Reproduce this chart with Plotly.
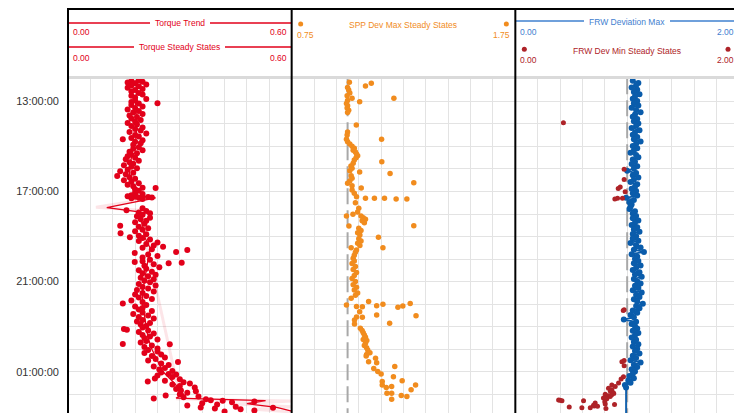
import plotly.graph_objects as go
from datetime import datetime, timedelta

# ---------------- data ----------------
torque_ss_time = [
    "12:04","12:06","12:08","12:10","12:12","12:15","12:18","12:20","12:24","12:27","12:30","12:34","12:38","12:42","12:45","12:50","12:54","12:58",
    "13:02","13:05","13:06","13:10","13:14","13:18","13:22","13:26","13:30","13:34","13:38","13:42","13:46","13:50","13:54","13:58",
    "14:02","14:06","14:10","14:14","14:18","14:22","14:26","14:30","14:34","14:38","14:41","14:44","14:48","14:52","14:56",
    "15:02","15:06","15:10","15:14","15:18","15:22","15:26","15:30","15:34","15:38","15:42","15:46","15:50","15:54","15:58",
    "16:02","16:06","16:10","16:14","16:19","16:22","16:26","16:30","16:34","16:38","16:42","16:46","16:50","16:51","16:54","16:58",
    "17:03","17:07","17:10","17:13","17:14","17:15","17:15","17:16","17:17","17:18","17:20","17:45","17:50","17:52","17:56","17:58",
    "18:02","18:06","18:10","18:14","18:18","18:22","18:26","18:31","18:34","18:38","18:42","18:46","18:51","18:54","18:58",
    "19:02","19:04","19:08","19:12","19:16","19:20","19:24","19:27","19:30","19:34","19:36","19:41","19:44","19:48","19:52","19:56",
    "20:02","20:06","20:08","20:10","20:11","20:14","20:18","20:22","20:26","20:30","20:34","20:38","20:42","20:46","20:50","20:54","20:58",
    "21:02","21:06","21:10","21:14","21:18","21:22","21:26","21:30","21:34","21:38","21:42","21:46","21:50","21:54","21:58",
    "22:02","22:06","22:10","22:14","22:18","22:22","22:26","22:30","22:34","22:38","22:42","22:46","22:50","22:54","22:58",
    "23:02","23:06","23:08","23:10","23:14","23:18","23:22","23:26","23:30","23:34","23:38","23:42","23:46","23:47","23:50","23:54","23:58",
    "00:02","00:06","00:10","00:14","00:18","00:22","00:26","00:30","00:34","00:38","00:42","00:46","00:50","00:54","00:58",
    "01:02","01:06","01:07","01:10","01:14","01:18","01:20","01:24","01:26","01:28","01:31","01:34","01:38","01:42","01:46","01:50","01:52","01:56",
    "02:00","02:03","02:06","02:08","02:11","02:13","02:16","02:17","02:19","02:21","02:24","02:27","02:30","02:33","02:35","02:36","02:38","02:40","02:43","02:46",
]
torque_ss_value = [
    0.19,0.17,0.20,0.16,0.18,0.21,0.17,0.19,0.16,0.20,0.18,0.17,0.19,0.20,0.17,0.18,0.21,0.18,
    0.17,0.24,0.19,0.17,0.20,0.18,0.16,0.19,0.175,0.20,0.165,0.185,0.17,0.195,0.18,0.16,
    0.185,0.17,0.20,0.18,0.195,0.165,0.21,0.18,0.19,0.17,0.147,0.20,0.18,0.195,0.175,
    0.19,0.175,0.20,0.165,0.185,0.17,0.16,0.18,0.155,0.19,0.165,0.175,0.15,0.17,0.185,
    0.16,0.14,0.175,0.155,0.132,0.165,0.18,0.15,0.17,0.19,0.16,0.175,0.20,0.235,0.18,0.19,
    0.18,0.20,0.17,0.16,0.18,0.20,0.215,0.225,0.19,0.17,0.20,0.20,0.157,0.21,0.19,0.22,
    0.20,0.185,0.22,0.195,0.21,0.18,0.205,0.14,0.19,0.215,0.20,0.18,0.141,0.21,0.19,
    0.166,0.20,0.22,0.19,0.24,0.21,0.23,0.255,0.20,0.225,0.32,0.29,0.179,0.215,0.24,0.20,
    0.22,0.20,0.179,0.305,0.27,0.23,0.205,0.245,0.21,0.19,0.225,0.20,0.235,0.215,0.195,0.23,0.205,
    0.22,0.19,0.235,0.20,0.215,0.185,0.23,0.20,0.18,0.21,0.19,0.225,0.17,0.20,0.147,
    0.21,0.18,0.20,0.19,0.225,0.20,0.175,0.215,0.19,0.23,0.20,0.185,0.22,0.195,0.21,
    0.20,0.15,0.158,0.215,0.19,0.23,0.20,0.22,0.205,0.24,0.21,0.195,0.147,0.273,0.225,0.205,0.24,
    0.215,0.24,0.205,0.25,0.225,0.26,0.235,0.215,0.295,0.25,0.27,0.23,0.26,0.245,0.28,
    0.25,0.27,0.29,0.24,0.28,0.233,0.30,0.26,0.214,0.31,0.327,0.28,0.30,0.34,0.29,0.303,0.343,0.32,
    0.30,0.262,0.35,0.31,0.23,0.37,0.383,0.415,0.50,0.44,0.36,0.40,0.32,0.45,0.356,0.55,0.394,0.463,0.50,0.42,
]

torque_trend_time = ["12:05","12:30","13:00","13:30","14:00","14:30","15:00","15:30","16:00","16:30","17:00","17:12","17:17",
                     "17:43","17:54","18:30","19:00","19:30","20:00","20:30","21:00","21:30","22:00","22:30","23:00","23:30",
                     "00:00","00:30","01:00","01:30","02:00","02:10","02:17","02:25","02:35","02:45"]
torque_trend_value = [0.18,0.185,0.18,0.185,0.18,0.185,0.175,0.17,0.165,0.165,0.18,0.19,0.235,
                      0.104,0.19,0.20,0.205,0.22,0.215,0.21,0.205,0.20,0.20,0.205,0.21,0.215,
                      0.225,0.24,0.255,0.285,0.31,0.29,0.53,0.48,0.56,0.60]

torque_band_time = ["17:10","17:17","17:42","17:50","02:05","02:12","02:18","02:26","02:33","02:40","02:47"]
torque_band_value = [0.19,0.235,0.075,0.19,0.30,0.29,0.60,0.45,0.60,0.50,0.60]

spp_time = ["12:09","12:12","12:19","12:23","12:30","12:38","12:45","12:52","12:52","12:58","13:01","13:06","13:12","13:18","13:24","13:30",
            "14:03","14:22","14:30","14:41","14:41","14:48","14:54","15:00","15:05","15:10","15:15","15:20","15:25","15:30","15:36","15:41",
            "15:45","15:52","15:58","16:05","16:08","16:12","16:18","16:25","16:32","16:37","16:38","16:45","16:51","16:56","17:05","17:14",
            "17:18","17:18","17:18","17:20","17:20","17:30","17:45","17:55","18:01","18:05","18:05","18:10","18:14","18:18","18:23","18:31",
            "18:32","18:38","18:44","18:50","18:56","19:02","19:06","19:12","19:18","19:24","19:30","19:30","19:36","19:42","19:50","19:58",
            "20:05","20:12","20:20","20:28","20:36","20:44","20:52","21:00","21:08","21:15","21:22","21:30","21:36","21:44","21:53","21:58",
            "22:00","22:02","22:04","22:05","22:06","22:07","22:08","22:20","22:29","22:31","22:34","22:35","22:42","22:51","22:53","23:04",
            "23:10","23:16","23:22","23:28","23:34","23:37","23:44","23:50","23:56","00:02","00:09","00:14","00:18","00:24","00:33","00:36",
            "00:46","00:51","00:59","01:06","01:13","01:24","01:26","01:35","01:35","01:39","01:42","01:48","01:57","01:57","02:03","02:06","02:13"]
spp_value = [1.008,1.106,1.08,1.00,1.005,1.01,0.998,1.02,1.207,1.00,1.054,0.995,1.00,0.998,1.005,1.00,
             1.039,1.00,0.998,0.995,1.152,1.00,1.01,1.02,1.03,1.025,1.035,1.04,1.045,1.038,1.03,1.153,
             1.025,1.015,1.02,1.01,1.054,1.19,1.016,1.02,1.01,1.296,1.00,1.02,1.061,1.02,1.03,1.04,
             1.08,1.12,1.165,1.217,1.265,1.035,1.05,1.045,1.024,0.995,1.06,1.07,1.08,1.065,1.075,1.296,
             1.006,1.05,1.06,1.045,1.055,1.138,1.05,1.06,1.045,1.055,1.158,1.016,1.04,1.035,1.03,1.025,
             1.03,1.02,1.035,1.025,1.04,1.03,1.02,1.035,1.025,1.04,1.03,1.045,1.035,1.016,1.094,1.28,
             1.158,0.995,1.13,1.247,1.04,1.066,1.225,1.054,1.13,1.306,1.04,1.066,1.031,1.188,1.031,1.057,
             1.065,1.07,1.075,1.08,1.07,1.086,1.08,1.075,1.085,1.09,1.10,1.085,1.083,1.125,1.094,1.13,
             1.211,1.117,1.135,1.15,1.205,1.244,1.155,1.155,1.304,1.197,1.173,1.284,1.176,1.197,1.24,1.265,1.197]

frw_max_time = [
    "12:05","12:11","12:17","12:23","12:29","12:35","12:41","12:47","12:53","12:59",
    "13:05","13:11","13:17","13:23","13:29","13:35","13:41","13:47","13:53","13:59",
    "14:05","14:11","14:17","14:23","14:29","14:35","14:41","14:47","14:53","14:59",
    "15:05","15:11","15:17","15:23","15:29","15:35","15:41","15:47","15:53","15:59",
    "16:05","16:11","16:17","16:23","16:29","16:35","16:41","16:47","16:53","16:59",
    "17:05","17:11","17:17","17:23","17:29","17:35","17:41","17:47","17:53","17:59",
    "18:05","18:11","18:17","18:23","18:29","18:35","18:41","18:47","18:53","18:59",
    "19:05","19:11","19:17","19:23","19:29","19:35","19:41","19:47","19:53","19:59",
    "20:05","20:11","20:17","20:23","20:29","20:35","20:41","20:47","20:53","20:59",
    "21:05","21:11","21:17","21:23","21:29","21:35","21:41","21:47","21:53","21:59",
    "22:05","22:11","22:17","22:23","22:29","22:35","22:41","22:47","22:53","22:59",
    "23:05","23:11","23:17","23:23","23:29","23:35","23:41","23:47","23:53","23:59",
    "00:05","00:11","00:17","00:23","00:29","00:35","00:41","00:47","00:53","00:59",
    "01:05","01:11","01:17","01:23","01:29","01:35","01:42","03:30",
]
frw_max_value = [
    1.05,1.10,1.08,1.04,1.09,1.06,1.11,1.07,1.05,1.09,
    1.06,1.10,1.04,1.08,1.12,1.07,1.05,1.09,1.06,1.10,
    1.08,1.04,1.11,1.07,1.05,1.09,1.06,1.12,1.08,1.05,
    1.09,1.06,1.03,1.08,1.10,1.05,1.07,1.04,1.09,1.06,
    1.00,1.08,1.05,1.10,1.06,1.03,1.09,1.07,1.04,1.08,
    1.05,1.09,0.99,1.06,1.02,1.04,1.03,1.02,1.07,1.05,
    1.08,1.05,1.10,1.07,1.04,1.09,1.06,1.11,1.05,1.08,
    1.05,1.10,1.03,1.08,1.12,1.06,1.15,1.04,1.09,1.07,
    1.10,1.06,1.12,1.08,1.05,1.11,1.07,1.13,1.06,1.09,
    1.12,1.07,1.10,1.05,1.13,1.08,1.11,1.06,1.09,1.14,
    1.08,1.11,1.05,1.09,1.03,1.06,0.97,1.08,1.04,1.07,
    1.09,1.05,1.10,1.07,1.04,1.08,1.06,1.10,1.05,1.09,
    1.07,1.11,1.05,1.08,1.03,1.12,1.06,1.09,1.04,1.07,
    1.05,1.02,1.06,1.01,1.03,0.98,0.99,0.99,
]

frw_min_time = ["13:57","16:01","16:28","16:48","16:52","17:01","17:18","17:18","17:20","22:15","22:17","00:30","00:33","00:44",
                "01:13","01:19","01:30","01:35","01:39","01:44","01:48","01:52","01:56","01:58","02:00","02:02","02:04","02:06",
                "02:08","02:10","02:12","02:15","02:16","02:17","02:17","02:20","02:23","02:26","02:27","02:29","02:31","02:32",
                "02:34","02:36","02:36","02:38"]
frw_min_value = [0.43,0.973,0.973,0.938,0.92,0.982,0.914,0.958,0.89,0.973,0.965,0.973,0.953,0.973,
                 0.967,0.946,0.923,0.863,0.893,0.833,0.863,0.85,0.875,0.88,0.804,0.86,0.83,0.848,
                 0.82,0.788,0.818,0.387,0.40,0.417,0.61,0.80,0.714,0.804,0.887,0.699,0.705,0.735,
                 0.482,0.595,0.67,0.81]

spp_ref_value = [1.0, 1.0]
frw_ref_value = [1.0, 1.0]
ref_time = ["2024-01-01 11:00", "2024-01-02 04:00"]

tick_labels = ["13:00:00", "17:00:00", "21:00:00", "01:00:00"]
tick_times = ["2024-01-01 13:00", "2024-01-01 17:00", "2024-01-01 21:00", "2024-01-02 01:00"]

# ---------------- helpers ----------------
BASE = datetime(2024, 1, 1)


def to_dt(s):
    h, m = map(int, s.split(":"))
    d = BASE + timedelta(hours=h, minutes=m)
    if h < 10:
        d += timedelta(days=1)
    return d


def times(lst):
    return [to_dt(s) for s in lst]


OFF = 8  # page body margin
W, H = 742, 413
MT, MB, ML, MR = 70, 0, 60, 11
PH = H - MT - MB


def hy(py_screen):
    return (H - MB - (py_screen - OFF)) / PH


RED = "#E2001A"
ORANGE = "#F18C1E"
BLUE = "#0A5CAB"
BLUE_HDR = "#3F80CF"
DRED = "#AE2328"
GRID = "#E3E3E3"
FONT = "Liberation Sans, Arial, sans-serif"

fig = go.Figure()

# Track 1: torque
fig.add_trace(go.Scatter(x=torque_band_value, y=times(torque_band_time), mode="lines",
                         line=dict(color="rgba(226,0,26,0.10)", width=3), xaxis="x", yaxis="y",
                         hoverinfo="skip", showlegend=False))
fig.add_trace(go.Scatter(x=torque_trend_value, y=times(torque_trend_time), mode="lines",
                         line=dict(color=RED, width=1.3), xaxis="x", yaxis="y", showlegend=False))
fig.add_trace(go.Scatter(x=torque_ss_value, y=times(torque_ss_time), mode="markers",
                         marker=dict(color=RED, size=6, line=dict(width=0)), xaxis="x", yaxis="y",
                         showlegend=False))

# Track 2: SPP
fig.add_trace(go.Scatter(x=spp_ref_value, y=ref_time, mode="lines",
                         line=dict(color="#A8A8A8", width=2, dash="16px,6px"), xaxis="x2", yaxis="y",
                         showlegend=False))
fig.add_trace(go.Scatter(x=spp_value, y=times(spp_time), mode="markers",
                         marker=dict(color=ORANGE, size=5.5, line=dict(width=0)), xaxis="x2", yaxis="y",
                         showlegend=False))

# Track 3: FRW
fig.add_trace(go.Scatter(x=frw_ref_value, y=ref_time, mode="lines",
                         line=dict(color="#A8A8A8", width=2, dash="16px,6px"), xaxis="x3", yaxis="y",
                         showlegend=False))
fig.add_trace(go.Scatter(x=frw_max_value, y=times(frw_max_time), mode="lines+markers",
                         line=dict(color=BLUE, width=1.8), marker=dict(color=BLUE, size=6, line=dict(width=0)),
                         xaxis="x3", yaxis="y", showlegend=False))
fig.add_trace(go.Scatter(x=frw_min_value, y=times(frw_min_time), mode="markers",
                         marker=dict(color=DRED, size=5, line=dict(width=0)), xaxis="x3", yaxis="y",
                         showlegend=False))

xcommon = dict(showgrid=True, gridcolor=GRID, gridwidth=1, zeroline=False, showticklabels=False,
               ticks="", showline=False, fixedrange=True)

fig.update_layout(
    width=W, height=H,
    margin=dict(l=ML, r=MR, t=MT, b=MB),
    paper_bgcolor="white", plot_bgcolor="white",
    font=dict(family=FONT, size=11, color="#333333"),
    showlegend=False,
    xaxis=dict(domain=[0, 1 / 3], range=[0, 0.6], dtick=0.06, tick0=0, anchor="y", **xcommon),
    xaxis2=dict(domain=[1 / 3, 2 / 3], range=[0.75, 1.75], dtick=0.1, tick0=0.75, anchor="y", **xcommon),
    xaxis3=dict(domain=[2 / 3, 1], range=[0, 2], dtick=0.2, tick0=0, anchor="y", **xcommon),
    yaxis=dict(type="date", range=["2024-01-02 03:11", "2024-01-01 11:58"], anchor="x",
               tickvals=tick_times, ticktext=tick_labels, showgrid=True, gridcolor=GRID,
               ticks="", ticklabelstandoff=8, zeroline=False, showline=False,
               tickfont=dict(family=FONT, size=11, color="#333333"),
               minor=dict(dtick=3600000, tick0="2024-01-01 01:00", showgrid=True, gridcolor=GRID, ticks="")),
)

shapes = []
# header/plot separator band
shapes.append(dict(type="line", xref="paper", yref="paper", x0=0, x1=1, y0=hy(77.5), y1=hy(77.5),
                   line=dict(color="#DADADA", width=3)))


def seg(xref, x0, x1, py, color):
    shapes.append(dict(type="line", xref=xref, yref="paper", x0=x0, x1=x1, y0=hy(py), y1=hy(py),
                       line=dict(color=color, width=1.5)))


seg("x", 0, 0.6, 23, RED)
seg("x", 0, 0.6, 47, RED)
seg("x3", 0, 2, 21, BLUE_HDR)


def dot(xref, xval, xoff, py, color):
    shapes.append(dict(type="circle", xref=xref, yref="paper", xsizemode="pixel", ysizemode="pixel",
                       xanchor=xval, yanchor=hy(py), x0=xoff - 2.5, x1=xoff + 2.5, y0=-2.5, y1=2.5,
                       fillcolor=color, line=dict(width=0)))


dot("x2", 0.75, 9, 24, ORANGE)
dot("x2", 1.75, -9, 24, ORANGE)
dot("x3", 0, 9, 49.3, DRED)
dot("x3", 2, -11, 49.3, DRED)

# track borders
for xp in [0, 1 / 3, 2 / 3, 1]:
    shapes.append(dict(type="line", xref="paper", yref="paper", x0=xp, x1=xp, y0=hy(H + 20), y1=hy(8),
                       line=dict(color="black", width=2)))
shapes.append(dict(type="line", xref="paper", yref="paper", x0=0, x1=1, y0=hy(9), y1=hy(9),
                   line=dict(color="black", width=2)))
fig.update_layout(shapes=shapes)

ann = []


def title(xref, xc, py, text, color, bg=True):
    ann.append(dict(xref=xref, yref="paper", x=xc, y=hy(py), text=text, showarrow=False,
                    font=dict(family=FONT, size=8.5, color=color), xanchor="center", yanchor="middle",
                    bgcolor="white" if bg else None, borderpad=5, borderwidth=0))


def lim(xref, xval, py, text, color, side):
    ann.append(dict(xref=xref, yref="paper", x=xval, y=hy(py), text=text, showarrow=False,
                    font=dict(family=FONT, size=8.5, color=color),
                    xanchor="left" if side == "l" else "right", yanchor="middle",
                    xshift=3 if side == "l" else -3))


title("x", 0.3, 23, "Torque Trend", RED)
lim("x", 0, 32.3, "0.00", RED, "l")
lim("x", 0.6, 32.3, "0.60", RED, "r")
title("x", 0.3, 47.3, "Torque Steady States", RED)
lim("x", 0, 57.7, "0.00", RED, "l")
lim("x", 0.6, 57.7, "0.60", RED, "r")

title("x2", 1.25, 25, "SPP Dev Max Steady States", ORANGE, bg=False)
lim("x2", 0.75, 35, "0.75", ORANGE, "l")
lim("x2", 1.75, 35, "1.75", ORANGE, "r")

title("x3", 1.0, 22, "FRW Deviation Max", BLUE_HDR)
lim("x3", 0, 31.7, "0.00", BLUE_HDR, "l")
lim("x3", 2, 31.7, "2.00", BLUE_HDR, "r")
title("x3", 1.0, 51, "FRW Dev Min Steady States", DRED, bg=False)
lim("x3", 0, 60, "0.00", DRED, "l")
lim("x3", 2, 60, "2.00", DRED, "r")

fig.update_layout(annotations=ann)

fig.write_html("out.html")
